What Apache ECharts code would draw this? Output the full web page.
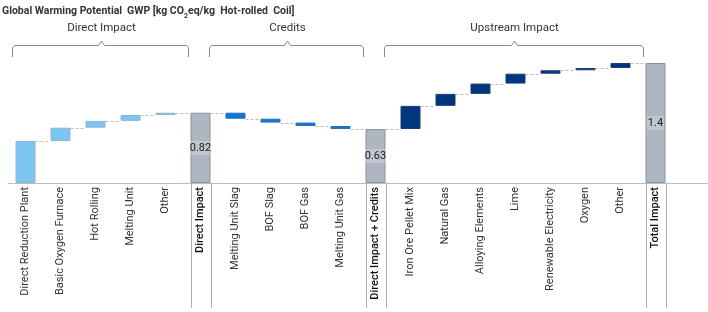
<!DOCTYPE html>
<html>
<head>
<meta charset="utf-8">
<script src="https://cdn.jsdelivr.net/npm/echarts@6/dist/echarts.min.js"></script>
<style>
  html, body { margin: 0; padding: 0; background: #fff; }
  #main { width: 708px; height: 312px; }
</style>
</head>
<body>
<div id="main"></div>
<script>
// values (kg CO2eq / kg hot-rolled coil)
const directCats = ['Direct Reduction Plant', 'Basic Oxygen Furnace', 'Hot Rolling', 'Melting Unit', 'Other'];
const directVals = [0.49, 0.155, 0.08, 0.068, 0.027];
const creditCats = ['Melting Unit Slag', 'BOF Slag', 'BOF Gas', 'Melting Unit Gas'];
const creditVals = [-0.07, -0.045, -0.04, -0.035];
const upstreamCats = ['Iron Ore Pellet Mix', 'Natural Gas', 'Alloying Elements', 'Lime', 'Renewable Electricity', 'Oxygen', 'Other'];
const upstreamVals = [0.27, 0.14, 0.12, 0.115, 0.04, 0.027, 0.058];
const totalNames = ['Direct Impact', 'Direct Impact + Credits', 'Total Impact'];
const totalVals = [0.82, 0.63, 1.4];
const groupNames = ['Direct Impact', 'Credits', 'Upstream Impact'];
const groupColors = ['#7cc5f1', '#0a78dc', '#00367f'];
const groupBorders = ['#8db7d3', '#2a6fb5', '#1b3f74'];

const FONT = 'Roboto';
const BAR_W = 20;

// build the waterfall
const cats = [], base = [], heights = [], level = [], isTotal = [];
let running = 0;
[[directCats, directVals], [creditCats, creditVals], [upstreamCats, upstreamVals]].forEach((g, gi) => {
  g[0].forEach((name, i) => {
    const v = g[1][i];
    cats.push(name);
    base.push(Math.min(running, running + v));
    running += v;
    heights.push({
      value: Math.abs(v),
      itemStyle: {color: groupColors[gi], borderColor: groupBorders[gi], borderWidth: 1}
    });
    level.push(running);
    isTotal.push(false);
  });
  cats.push(totalNames[gi]);
  base.push(0);
  heights.push({
    value: totalVals[gi],
    itemStyle: {color: '#aeb7c1', borderColor: '#8a939d', borderWidth: 1},
    label: {
      show: true, position: 'inside', fontFamily: FONT, fontSize: 11, color: '#222',
      backgroundColor: 'rgba(255,255,255,0.22)', padding: [2, 1, 1, 1],
      formatter: (p) => String(p.value)
    }
  });
  level.push(totalVals[gi]);
  running = totalVals[gi];
  isTotal.push(true);
});
// empty slot on the right
cats.push('');
base.push('-');
heights.push('-');
level.push('-');
isTotal.push(false);

// connector: [index, level] from bar i to bar i+1
const links = [];
for (let i = 0; i < level.length - 2; i++) links.push([i, level[i]]);

const chart = echarts.init(document.getElementById('main'));

chart.setOption({
  animation: false,
  title: {
    left: 2, top: 2, padding: 0,
    text: '{b|Global Warming Potential} {n|GWP [kg CO}{s|2}{n|eq/kg  Hot-rolled  Coil]}',
    textStyle: {
      rich: {
        b: {fontFamily: FONT, fontSize: 10.5, fontWeight: 'bold', color: '#333'},
        n: {fontFamily: FONT, fontSize: 10.5, color: '#333'},
        s: {fontFamily: FONT, fontSize: 7, color: '#333', verticalAlign: 'bottom', padding: [6, 0, 0, 0]}
      }
    }
  },
  grid: {left: 8, right: 0, top: 63, bottom: 129},
  xAxis: {
    type: 'category',
    data: cats,
    axisLine: {lineStyle: {color: '#b8bec6'}},
    axisTick: {show: false},
    axisLabel: {
      rotate: 90, margin: 4, interval: 0,
      fontFamily: FONT, fontSize: 11, color: '#333',
      formatter: (v, i) => isTotal[i] ? '{t|' + v + '}' : v,
      rich: {t: {fontFamily: FONT, fontSize: 11, fontWeight: 500, color: '#111'}}
    }
  },
  yAxis: {type: 'value', min: 0, max: 1.4, show: false},
  series: [
    {
      type: 'custom', data: links, z: 1, silent: true,
      renderItem: (params, api) => {
        const a = api.coord([api.value(0), api.value(1)]);
        const b = api.coord([api.value(0) + 1, api.value(1)]);
        const y = Math.round(a[1]) + 0.5;
        return {
          type: 'line',
          shape: {x1: a[0] + BAR_W / 2, y1: y, x2: b[0] - BAR_W / 2, y2: y},
          style: {stroke: '#bdbdbd', lineWidth: 1, lineDash: [3, 2]}
        };
      }
    },
    {
      type: 'bar', stack: 'w', data: base, barWidth: BAR_W, z: 2,
      itemStyle: {color: 'transparent'}, silent: true
    },
    {
      type: 'bar', stack: 'w', data: heights, barWidth: BAR_W, z: 3
    }
  ]
});

// separators beside the total columns and the group brackets on top
function drawDecor() {
  const gfx = [];
  const px = (i) => chart.convertToPixel({xAxisIndex: 0}, i);
  const y0 = chart.convertToPixel({yAxisIndex: 0}, 0);
  const totalIdx = [];
  isTotal.forEach((t, i) => { if (t) totalIdx.push(i); });
  totalIdx.forEach((i) => {
    [-BAR_W / 2, BAR_W / 2].forEach((d) => {
      gfx.push({
        type: 'line', z: 10,
        shape: {x1: Math.round(px(i) + d) + 0.5, y1: y0, x2: Math.round(px(i) + d) + 0.5, y2: 308},
        style: {stroke: '#a9b0b8', lineWidth: 1}
      });
    });
  });
  const starts = [px(0) - 14, px(totalIdx[0]) + 8, px(totalIdx[1]) + 8];
  const ends = [px(totalIdx[0]) - 13, px(totalIdx[1]) - 13, px(totalIdx[2]) - 13];
  groupNames.forEach((name, gi) => {
    const a = Math.round(starts[gi]) + 0.5, b = Math.round(ends[gi]) + 0.5;
    const m = Math.round((a + b) / 2) + 0.5;
    gfx.push({
      type: 'polyline', z: 10,
      shape: {points: [[a, 57], [a, 47.5], [a + 2, 45.5], [m - 3, 45.5], [m, 41], [m + 3, 45.5], [b - 2, 45.5], [b, 47.5], [b, 57]]},
      style: {stroke: '#8a8a8a', lineWidth: 1, fill: null}
    });
    gfx.push({
      type: 'text', z: 10,
      x: m, y: 28,
      style: {text: name, fontFamily: FONT, fontSize: 11.5, fill: '#333', align: 'center', verticalAlign: 'middle'}
    });
  });
  chart.setOption({graphic: gfx});
}
drawDecor();
</script>
</body>
</html>
